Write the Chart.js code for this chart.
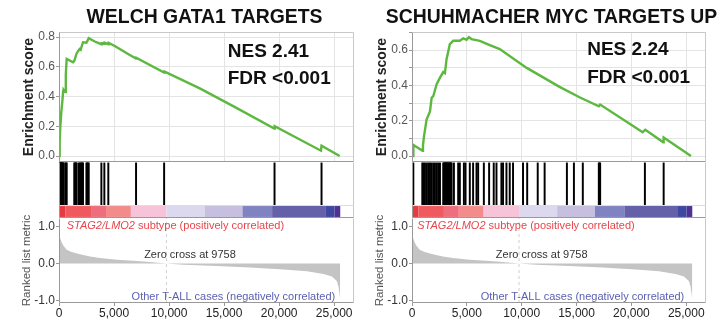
<!DOCTYPE html>
<html>
<head>
<meta charset="utf-8">
<script src="https://cdn.jsdelivr.net/npm/chart.js@4.4.1/dist/chart.umd.min.js"></script>
<style>
  html, body { margin: 0; padding: 0; background: #fff; overflow: hidden; }
  body { width: 720px; height: 321px; position: relative; }
  canvas { position: absolute; }
</style>
</head>
<body>
<script>
'use strict';

// shared rank axis
var X_MAX = 26800;
var ZERO_CROSS = 9758;
var X_TICKS = [0, 5000, 10000, 15000, 20000, 25000];

// ranked list metric (same list for both panels)
var metricRanks = [0, 60, 240, 390, 700, 1150, 1900, 2820, 3730, 5250, 6750, 8270, 9758,
	11300, 14330, 17360, 20390, 22520, 24030, 24790, 25240, 25390, 25500, 25550];
var metricValues = [0.78, 0.72, 0.57, 0.48, 0.37, 0.31, 0.25, 0.19, 0.145, 0.10, 0.072, 0.037, 0,
	-0.035, -0.07, -0.11, -0.16, -0.21, -0.28, -0.35, -0.47, -0.62, -0.85, -1.0];

// colour bar of the ranked list
var colorBarEdges = [0, 600, 2910, 4270, 6530, 9758, 13230, 16670, 19360, 24250, 25030, 25550];
var colorBarColors = ['#e53a3f', '#ef5a5e', '#ee6e7e', '#f38b8b', '#f6c3d8', '#dcd8ee',
	'#c7bfe0', '#8083c2', '#6561a8', '#3e48a1', '#4d3193'];

// WELCH GATA1 TARGETS
var welchRanks = [0, 60, 120, 215, 306, 380, 430, 579, 620, 700, 1275, 1390, 1600, 1730, 1880,
	1970, 2180, 2490, 2700, 3245, 3850, 3900, 4120, 4150, 4480, 4520, 5064, 6276, 7000, 7050,
	9550, 9600, 12790, 15820, 19560, 19600, 23800, 23850, 25500];
var welchES = [0, 0.1, 0.2, 0.3, 0.37, 0.44, 0.445, 0.43, 0.55, 0.653, 0.63, 0.64, 0.69, 0.705, 0.72,
	0.715, 0.765, 0.762, 0.793, 0.77, 0.752, 0.758, 0.755, 0.762, 0.752, 0.76, 0.74, 0.686, 0.655, 0.66,
	0.562, 0.567, 0.455, 0.336, 0.185, 0.2, 0.036, 0.07, 0];
var welchHits = [20, 60, 100, 140, 180, 220, 260, 300, 340, 380, 420, 580, 640, 700,
	1390, 1440, 1500, 1550, 1600, 1790, 1880, 1970, 2030, 2100, 2180, 2490, 2560, 2630, 2700,
	3850, 4120, 4480, 7000, 9550, 19580, 23850];

// SCHUHMACHER MYC TARGETS UP
var schuRanks = [0, 120, 125, 970, 1000, 1090, 1330, 1640, 1790, 1940, 2240, 2550, 2850, 3000,
	3150, 3450, 3760, 4360, 4670, 4970, 5180, 5420, 6180, 7090, 8000, 10420, 13450, 15270,
	17030, 17150, 21030, 21270, 22900, 22940, 25430];
var schuES = [0, 0, 0.063, 0.03, 0.06, 0.11, 0.206, 0.253, 0.33, 0.339, 0.406, 0.444, 0.476, 0.47,
	0.549, 0.634, 0.653, 0.653, 0.667, 0.659, 0.674, 0.663, 0.653, 0.629, 0.606, 0.501, 0.392, 0.333,
	0.282, 0.292, 0.135, 0.149, 0.078, 0.105, 0];
var schuHits = [120, 940, 1030, 1180, 1340, 1480, 1640, 1790, 1940, 2090, 2250, 2390, 2550,
	2850, 2900, 2950, 3000, 3050, 3100, 3150, 3200, 3250, 3300, 3350, 3400, 3450, 3500, 3560, 3610,
	3820, 4210, 4360, 4730, 4880, 5270, 5570, 5880, 6030, 6550, 7030, 7450, 7700, 8150, 8300,
	8610, 8910, 9210, 10120, 10500, 11460, 12090, 14120, 14760, 15570, 17030, 17090, 17150,
	21230, 22940];

var FONT = '"Liberation Sans", Arial, Helvetica, sans-serif';
var GREEN = '#5cb83f';
var GRID = '#e4e4e4';
var FRAME = '#c8c8c8';
var AXIS = '#999999';

Chart.defaults.font.family = FONT;
Chart.defaults.animation = false;
Chart.defaults.responsive = false;
Chart.defaults.events = [];
Chart.defaults.plugins.legend.display = false;
Chart.defaults.plugins.tooltip.enabled = false;

function xy(xs, ys) {
	return xs.map(function (x, i) { return { x: x, y: ys[i] }; });
}

function addCanvas(left, top, width, height) {
	var c = document.createElement('canvas');
	c.width = width;
	c.height = height;
	c.style.left = left + 'px';
	c.style.top = top + 'px';
	document.body.appendChild(c);
	return c;
}

// lines round the plot area, one colour per side (t, r, b, l)
function frame(sides) {
	return {
		id: 'frame',
		afterDraw: function (chart) {
			var a = chart.chartArea, ctx = chart.ctx;
			var t = Math.round(a.top) + 0.5, b = Math.round(a.bottom) - 0.5,
				l = Math.round(a.left) + 0.5, r = Math.round(a.right) - 0.5;
			var segs = { t: [l, t, r, t], r: [r, t, r, b], b: [l, b, r, b], l: [l, t, l, b] };
			ctx.save();
			ctx.lineWidth = 1;
			Object.keys(sides).forEach(function (k) {
				var s = segs[k];
				ctx.strokeStyle = sides[k];
				ctx.beginPath();
				ctx.moveTo(s[0], s[1]);
				ctx.lineTo(s[2], s[3]);
				ctx.stroke();
			});
			ctx.restore();
		}
	};
}

// free text, placed in data units (x, y) or canvas pixels (px, py)
function notes(items) {
	return {
		id: 'notes',
		afterDraw: function (chart) {
			var ctx = chart.ctx, xs = chart.scales.x, ys = chart.scales.y;
			items.forEach(function (n) {
				var x = n.px !== undefined ? n.px : xs.getPixelForValue(n.x),
					y = n.py !== undefined ? n.py : ys.getPixelForValue(n.y),
					parts = n.parts || [{ text: n.text, font: n.font }],
					widths = [], total = 0;
				ctx.save();
				ctx.fillStyle = n.color;
				ctx.textBaseline = 'middle';
				ctx.textAlign = 'left';
				parts.forEach(function (p) {
					ctx.font = p.font;
					var w = ctx.measureText(p.text).width;
					widths.push(w);
					total += w;
				});
				if (n.align === 'center') {
					x -= total / 2;
				} else if (n.align === 'right') {
					x -= total;
				}
				parts.forEach(function (p, i) {
					ctx.font = p.font;
					ctx.fillText(p.text, x, y);
					x += widths[i];
				});
				ctx.restore();
			});
		}
	};
}

function rankAxis(extra) {
	return Object.assign({
		type: 'linear',
		min: 0,
		max: X_MAX,
		offset: false,
		afterBuildTicks: function (s) {
			s.ticks = X_TICKS.map(function (v) { return { value: v }; });
		}
	}, extra);
}

function buildPanel(p) {
	var w = p.width, padR = w - p.plotRight;

	// enrichment score
	new Chart(addCanvas(p.left, 0, w, 174), {
		type: 'line',
		data: {
			datasets: [{
				data: xy(p.ranks, p.es),
				borderColor: GREEN,
				borderWidth: 2.4,
				pointRadius: 0,
				tension: 0
			}]
		},
		options: {
			layout: { padding: { top: 32, right: padR, bottom: 12, left: 0 } },
			scales: {
				x: rankAxis({
					afterFit: function (s) { s.height = 0; },
					ticks: { display: false },
					grid: { color: GRID, lineWidth: 1, drawTicks: false },
					border: { display: false }
				}),
				y: {
					min: p.esMin,
					max: p.esMax,
					afterFit: function (s) { s.width = 59; },
					ticks: {
						stepSize: 0.1,
						includeBounds: false,
						color: '#555',
						font: { size: 12 },
						padding: 1,
						callback: function (v) {
							var k = Math.round(v * 10);
							return k % 2 === 0 ? (k / 10).toFixed(1) : '';
						}
					},
					grid: { color: GRID, lineWidth: 1, tickColor: AXIS, tickLength: 3 },
					border: { display: false },
					title: {
						display: true,
						text: 'Enrichment score',
						color: '#222',
						font: { size: 14, weight: 'bold' },
						padding: { top: 21, bottom: 0 }
					}
				}
			}
		},
		plugins: [
			frame({ t: FRAME, r: FRAME, b: AXIS, l: AXIS }),
			notes([
				{ text: p.title, font: 'bold 19.4px ' + FONT, color: '#111', px: p.titleX, py: 18, align: 'center' },
				{ text: p.nes, font: 'bold 19px ' + FONT, color: '#111', x: p.noteX, y: p.nesY },
				{ text: 'FDR <0.001', font: 'bold 19px ' + FONT, color: '#111', x: p.noteX, y: p.fdrY }
			])
		]
	});

	// hits
	new Chart(addCanvas(p.left, 162, w, 44), {
		type: 'bar',
		data: {
			datasets: [{
				data: p.hits.map(function (r) { return { x: r, y: [0.03, 0.98] }; }),
				backgroundColor: '#000',
				barThickness: 1.3,
				grouped: false
			}]
		},
		options: {
			layout: { padding: { top: 0, right: padR, bottom: 0, left: 59 } },
			scales: {
				x: rankAxis({ display: false }),
				y: { display: false, min: 0, max: 1 }
			}
		},
		plugins: [frame({ r: FRAME, l: AXIS })]
	});

	// colour bar
	new Chart(addCanvas(p.left, 205, w, 13), {
		type: 'bar',
		data: {
			labels: ['list'],
			datasets: [{
				data: colorBarColors.map(function (c, i) {
					return { x: [colorBarEdges[i], colorBarEdges[i + 1]], y: 'list' };
				}),
				backgroundColor: colorBarColors,
				barPercentage: 0.84,
				categoryPercentage: 1,
				grouped: false
			}]
		},
		options: {
			indexAxis: 'y',
			layout: { padding: { top: 0, right: padR, bottom: 0, left: 59 } },
			scales: {
				x: rankAxis({ display: false }),
				y: { display: false }
			}
		},
		plugins: [frame({ t: '#dddddd', r: FRAME, b: AXIS, l: AXIS })]
	});

	// ranked list metric
	new Chart(addCanvas(p.left, 206, w, 115), {
		type: 'line',
		data: {
			datasets: [{
				data: xy(metricRanks, metricValues),
				borderWidth: 0,
				pointRadius: 0,
				fill: 'origin',
				backgroundColor: '#c4c4c4',
				tension: 0
			}, {
				data: [{ x: ZERO_CROSS, y: -1.06 }, { x: ZERO_CROSS, y: 1.22 }],
				borderColor: '#d0d0d0',
				borderWidth: 1,
				borderDash: [3, 3],
				pointRadius: 0
			}]
		},
		options: {
			layout: { padding: { top: 12, right: padR, bottom: 0, left: 0 } },
			scales: {
				x: rankAxis({
					afterFit: function (s) { s.height = 18; },
					ticks: {
						color: '#222',
						font: { size: 12 },
						padding: 0,
						callback: function (v) { return v.toLocaleString('en-US'); }
					},
					grid: { drawOnChartArea: false, tickColor: AXIS, tickLength: 3 },
					border: { display: false }
				}),
				y: {
					min: -1.06,
					max: 1.22,
					afterFit: function (s) { s.width = 59; },
					ticks: {
						stepSize: 1,
						includeBounds: false,
						color: '#333',
						font: { size: 12 },
						padding: 1,
						callback: function (v) { return v.toFixed(1); }
					},
					grid: { drawOnChartArea: false, tickColor: AXIS, tickLength: 3 },
					border: { display: false },
					title: {
						display: true,
						text: 'Ranked list metric',
						color: '#555',
						font: { size: 11.5 },
						padding: { top: 20, bottom: 0 }
					}
				}
			}
		},
		plugins: [
			frame({ r: FRAME, b: AXIS, l: AXIS }),
			notes([
				{ parts: [{ text: 'STAG2/LMO2', font: 'italic 11px ' + FONT },
					{ text: ' subtype (positively correlated)', font: '11px ' + FONT }],
					color: '#e8454c', x: p.posX, y: 1.01 },
				{ text: 'Zero cross at ' + ZERO_CROSS, font: '11px ' + FONT, color: '#333',
					x: p.zeroX, y: 0.23, align: 'center' },
				{ text: 'Other T-ALL cases (negatively correlated)', font: '11px ' + FONT, color: '#5a5fb0',
					x: p.negX, y: -0.9, align: 'right' }
			])
		]
	});
}

buildPanel({
	left: 0, width: 360, plotRight: 354,
	title: 'WELCH GATA1 TARGETS', titleX: 204.5,
	ranks: welchRanks, es: welchES, hits: welchHits,
	esMin: -0.04, esMax: 0.834,
	nes: 'NES 2.41', noteX: 15330, nesY: 0.701, fdrY: 0.522,
	posX: 700, zeroX: 11900, negX: 25090
});

buildPanel({
	left: 353, width: 367, plotRight: 353,
	title: 'SCHUHMACHER MYC TARGETS UP', titleX: 198.5,
	ranks: schuRanks, es: schuES, hits: schuHits,
	esMin: -0.034, esMax: 0.703,
	nes: 'NES 2.24', noteX: 15970, nesY: 0.60, fdrY: 0.444,
	posX: 480, zeroX: 11820, negX: 24820
});
</script>
</body>
</html>
